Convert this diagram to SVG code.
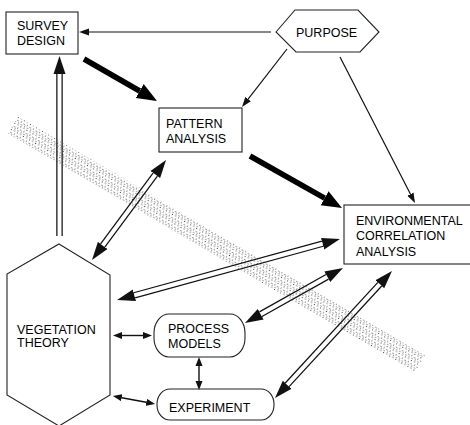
<svg xmlns="http://www.w3.org/2000/svg" width="470" height="425" viewBox="0 0 470 425">
<style>
  .box { fill: #fff; stroke: #222; stroke-width: 1.1; }
  .lbl { font-family: "Liberation Sans", Arial, sans-serif; font-size: 12.5px; fill: #000; }
  .thin { fill: none; stroke: #111; stroke-width: 1.2; }
  .thick { fill: none; stroke: #000; stroke-width: 5.5; }
  .small { fill: none; stroke: #111; stroke-width: 1.4; }
  .dblo { fill: none; stroke: #111; stroke-width: 6.5; }
  .dbli { fill: none; stroke: #fff; stroke-width: 4; }
</style>
<defs>
  <marker id="hThin" markerUnits="userSpaceOnUse" viewBox="0 0 11 8" markerWidth="11" markerHeight="8" refX="0" refY="4" orient="auto-start-reverse"><path d="M0,0.5 L10,4 L0,7.5 Z" fill="#111"/></marker>
  <marker id="hThick" markerUnits="userSpaceOnUse" viewBox="0 0 21 18" markerWidth="21" markerHeight="18" refX="0" refY="9" orient="auto-start-reverse"><path d="M0,1 L20,9 L0,17 Z" fill="#000"/></marker>
  <marker id="hDbl" markerUnits="userSpaceOnUse" viewBox="0 0 19 14" markerWidth="19" markerHeight="14" refX="0" refY="7" orient="auto-start-reverse"><path d="M0,1 L18,7 L0,13 Z" fill="#111"/></marker>
  <marker id="hSm" markerUnits="userSpaceOnUse" viewBox="0 0 10 8" markerWidth="10" markerHeight="8" refX="0" refY="4" orient="auto-start-reverse"><path d="M0,0.5 L9,4 L0,7.5 Z" fill="#111"/></marker>
  <pattern id="stip" patternUnits="userSpaceOnUse" width="7" height="7" patternTransform="rotate(30)">
    <circle cx="1" cy="1" r="0.55" fill="#222"/>
    <circle cx="4.5" cy="1.5" r="0.55" fill="#222"/>
    <circle cx="2.5" cy="4" r="0.55" fill="#222"/>
    <circle cx="6" cy="4.5" r="0.55" fill="#222"/>
    <circle cx="0.5" cy="6" r="0.5" fill="#222"/>
    <circle cx="4" cy="6.5" r="0.5" fill="#222"/>
  </pattern>
</defs>

<g id="survey-design">
  <rect class="box" x="6" y="12" width="72" height="42"/>
  <text class="lbl" x="17" y="30">SURVEY</text>
  <text class="lbl" x="17" y="45">DESIGN</text>
</g>
<g id="purpose">
  <polygon class="box" points="276,32 295,10 358,10 379,32 360,52 296,52"/>
  <text class="lbl" x="296" y="37">PURPOSE</text>
</g>
<g id="pattern-analysis">
  <rect class="box" x="159" y="108" width="83" height="44"/>
  <text class="lbl" x="166" y="128">PATTERN</text>
  <text class="lbl" x="166" y="143">ANALYSIS</text>
</g>
<g id="environmental-correlation-analysis">
  <rect class="box" x="344" y="205" width="130" height="59"/>
  <text class="lbl" x="356" y="225">ENVIRONMENTAL</text>
  <text class="lbl" x="356" y="240">CORRELATION</text>
  <text class="lbl" x="356" y="255.5">ANALYSIS</text>
</g>
<g id="vegetation-theory">
  <polygon class="box" points="59,244 110,275 110,395 59,426 7,395 7,274"/>
  <text class="lbl" x="17" y="334">VEGETATION</text>
  <text class="lbl" x="17" y="347">THEORY</text>
</g>
<g id="process-models">
  <rect class="box" x="154" y="314" width="91" height="43" rx="15" ry="19"/>
  <text class="lbl" x="168" y="333">PROCESS</text>
  <text class="lbl" x="168" y="347.5">MODELS</text>
</g>
<g id="experiment">
  <rect class="box" x="157" y="389" width="117" height="31" rx="13" ry="15"/>
  <text class="lbl" x="169" y="411.5">EXPERIMENT</text>
</g>

<g id="connectors">
  <path class="thin" d="M271,32 H89" marker-end="url(#hThin)"/>
  <path class="thin" d="M287,49 L248.1,99.1" marker-end="url(#hThin)"/>
  <path class="thin" d="M340,57 L410.4,194.1" marker-end="url(#hThin)"/>
  <path class="thick" d="M84,59 L139.7,91" marker-end="url(#hThick)"/>
  <path class="thick" d="M250,156 L324.6,198.2" marker-end="url(#hThick)"/>
  <g id="theory-survey">
    <path class="dblo" d="M59.5,236 V74" marker-end="url(#hDbl)"/>
    <path class="dbli" d="M59.5,237 V74"/>
  </g>
  <g id="pattern-theory">
    <path class="dblo" d="M102.7,245.5 L155.3,174.5" marker-start="url(#hDbl)" marker-end="url(#hDbl)"/>
    <path class="dbli" d="M102.7,245.5 L155.3,174.5"/>
  </g>
  <g id="theory-env">
    <path class="dblo" d="M134.4,295.3 L322.6,243.7" marker-start="url(#hDbl)" marker-end="url(#hDbl)"/>
    <path class="dbli" d="M134.4,295.3 L322.6,243.7"/>
  </g>
  <g id="process-env">
    <path class="dblo" d="M260.7,314.2 L327.3,276.8" marker-start="url(#hDbl)" marker-end="url(#hDbl)"/>
    <path class="dbli" d="M260.7,314.2 L327.3,276.8"/>
  </g>
  <g id="experiment-env">
    <path class="dblo" d="M287.2,384.8 L379.8,284.2" marker-start="url(#hDbl)" marker-end="url(#hDbl)"/>
    <path class="dbli" d="M287.2,384.8 L379.8,284.2"/>
  </g>
  <path class="small" d="M122,335.5 H143" marker-start="url(#hSm)" marker-end="url(#hSm)"/>
  <path class="small" d="M121.8,397.7 L146.2,402.3" marker-start="url(#hSm)" marker-end="url(#hSm)"/>
  <path class="small" d="M199,366 V381" marker-start="url(#hSm)" marker-end="url(#hSm)"/>
</g>

<polygon id="stipple-band" points="18.1,116.4 425.1,355.4 414.9,372.6 7.9,133.6" fill="url(#stip)"/>
</svg>
